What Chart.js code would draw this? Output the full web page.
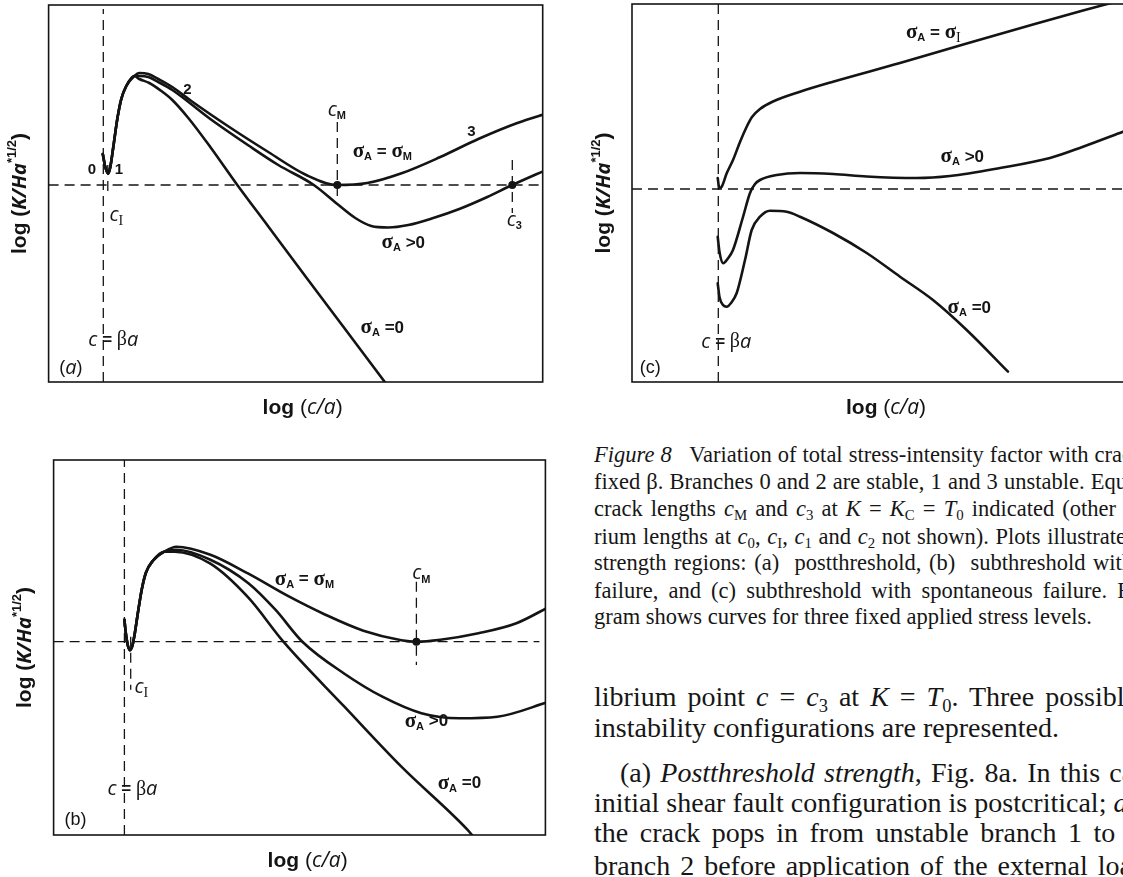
<!DOCTYPE html>
<html>
<head>
<meta charset="utf-8">
<script src="https://cdn.jsdelivr.net/npm/chart.js@4.4.0/dist/chart.umd.min.js"></script>
<style>
  html, body { margin: 0; padding: 0; background: #fff; }
  body { width: 1123px; height: 877px; position: relative; overflow: hidden; }
  canvas { position: absolute; }
  #chartA { left: 0; top: 0; }
  #chartB { left: 0; top: 440px; }
  #chartC { left: 590px; top: 0; }
  .cap, .txt { position: absolute; left: 594px; white-space: nowrap; font-family: "Liberation Serif", serif; color: #161616; }
  .cap { font-size: 22.5px; line-height: 27px; }
  .txt { font-size: 28px; line-height: 30px; }
  sub { font-size: 0.66em; vertical-align: -0.3em; line-height: 0; }
</style>
</head>
<body>
<canvas id="chartA" width="570" height="430"></canvas>
<canvas id="chartB" width="570" height="437"></canvas>
<canvas id="chartC" width="550" height="430"></canvas>

<div class="cap" style="top:441px; word-spacing:0.5px"><i>Figure 8</i>&ensp;&nbsp;Variation of total stress-intensity factor with crack length for</div>
<div class="cap" style="top:468px; word-spacing:0.5px">fixed β. Branches 0 and 2 are stable, 1 and 3 unstable. Equilibrium</div>
<div class="cap" style="top:495px; word-spacing:2.5px">crack lengths <i>c</i><sub>M</sub> and <i>c</i><sub>3</sub> at <i>K</i> = <i>K</i><sub>C</sub> = <i>T</i><sub>0</sub> indicated (other equilib-</div>
<div class="cap" style="top:523px; word-spacing:1px">rium lengths at <i>c</i><sub>0</sub>, <i>c</i><sub>I</sub>, <i>c</i><sub>1</sub> and <i>c</i><sub>2</sub> not shown). Plots illustrate three</div>
<div class="cap" style="top:549px; word-spacing:2px">strength regions: (a)&nbsp; postthreshold, (b)&nbsp; subthreshold with abrupt</div>
<div class="cap" style="top:577px; word-spacing:4.5px">failure, and (c) subthreshold with spontaneous failure. Each dia-</div>
<div class="cap" style="top:603px">gram shows curves for three fixed applied stress levels.</div>

<div class="txt" style="top:682px; word-spacing:4px">librium point <i>c</i> = <i>c</i><sub>3</sub> at <i>K</i> = <i>T</i><sub>0</sub>. Three possible</div>
<div class="txt" style="top:713px">instability configurations are represented.</div>
<div class="txt" style="top:758px; left:620px; word-spacing:2.2px">(a) <i>Postthreshold strength</i>, Fig. 8a. In this case the</div>
<div class="txt" style="top:788px">initial shear fault configuration is postcritical; <i>a</i>t zero load</div>
<div class="txt" style="top:818px; word-spacing:4.5px">the crack pops in from unstable branch 1 to stable</div>
<div class="txt" style="top:851px; word-spacing:3px">branch 2 before application of the external load.</div>

<script>
const INK = '#141414';

// ---- (a) postthreshold: x = log(c/a), y = log(K/Ha*1/2), both relative to the dashed guides
const aRangeX = [-5.47, 43.94];
const aRangeY = [-19.7, 18.0];
const aRise = [[-0.05, 3.1], [0.15, 2.0], [0.35, 1.35], [0.5, 1.15], [0.7, 1.8], [1.0, 3.8], [1.4, 6.6], [1.8, 8.6], [2.3, 9.9], [3.1, 10.9]];
const aSigmaM = [[3.6, 11.2], [4.5, 11.1], [5.5, 10.6], [6.9, 9.8], [8.8, 8.4], [12.6, 5.8], [16.5, 3.3], [20.3, 1.0], [23.4, 0], [26.4, 0.2], [29.9, 1.2], [33.7, 2.8], [37.5, 4.6], [41.4, 6.2], [44.5, 7.2]];
const aSigmaPos = [[3.6, 10.9], [4.5, 10.8], [5.5, 10.3], [6.9, 9.5], [10.7, 6.6], [14.6, 3.9], [17.5, 2.0], [21.05, 0], [23.4, -1.9], [25.2, -3.3], [26.8, -4.1], [28.5, -4.25], [30.5, -4.0], [33, -3.3], [35.6, -2.4], [38.4, -1.2], [40.9, 0], [44.5, 1.6]];
const aSigmaZero = [[3.6, 10.6], [4.6, 10.2], [5.8, 9.4], [6.9, 8.5], [8.5, 6.7], [10.7, 3.8], [13.4, 0], [16.5, -4.15], [20.3, -9.25], [24.1, -14.3], [28.6, -20.3]];
const aThreshold = [[-5.47, 0], [43.94, 0]];
const aBeta = [[0, -19.7], [0, 17.6]];
const aTickM = [[23.4, 6.3], [23.4, -1.5]];
const aTick3 = [[40.9, 2.5], [40.9, -2.8]];
const aTickI = [[0.45, 2.0], [0.45, -1.2]];
const aEquilibria = [[23.4, 0], [40.9, 0]];

// ---- (b) subthreshold, activated failure
const bRangeX = [-7.08, 42.1];
const bRangeY = [-19.33, 18.17];
const bRise = [[0.0, 2.2], [0.15, 0.8], [0.35, -0.4], [0.56, -0.85], [0.8, -0.4], [1.05, 0.9], [1.35, 2.9], [1.75, 5.3], [2.15, 6.9], [2.85, 8.1], [4.0, 9.0]];
const bSigmaM = [[5.2, 9.5], [8.6, 8.7], [12.4, 6.8], [16.3, 4.6], [20.1, 2.7], [23.9, 1.1], [27.7, 0.15], [29.2, 0], [31.6, 0.2], [35.4, 0.85], [39.2, 1.85], [42.5, 3.5]];
const bSigmaPos = [[5.2, 9.2], [8.6, 8.2], [12.4, 5.85], [15.1, 3.2], [17.8, 0], [22, -3.2], [25.8, -5.5], [29.7, -7.15], [33.5, -7.65], [37.3, -7.5], [42.5, -6.0]];
const bSigmaZero = [[5.0, 9.0], [8.6, 7.8], [12.4, 4.4], [15.9, 0], [22, -6.5], [27.7, -12.5], [34.3, -18.8], [34.9, -19.5]];
const bThreshold = [[-7.08, 0], [41.5, 0]];
const bBeta = [[0, -19.33], [0, 18.17]];
const bTickM = [[29.2, 6.0], [29.2, -2.33]];
const bTickI = [[0.63, 0.5], [0.63, -4.8]];
const bEquilibria = [[29.2, 0]];

// ---- (c) subthreshold, spontaneous failure
const cRangeX = [-8.63, 40.77];
const cRangeY = [-19.3, 18.5];
const cSigmaI = [[-0.06, 1.1], [0.10, 0.1], [0.32, 0.2], [0.84, 1.57], [1.47, 2.9], [2.17, 4.7], [2.84, 6.23], [3.37, 7.2], [4.17, 8.0], [5.47, 8.75], [8.17, 9.73], [11.47, 10.73], [18.17, 12.6], [24.84, 14.55], [31.47, 16.45], [36.47, 17.85], [39.67, 18.7]];
const cSigmaPos = [[-0.06, -4.77], [0.12, -6.3], [0.5, -7.43], [0.92, -7.0], [1.47, -6.1], [2.47, -2.8], [3.17, -0.4], [3.67, 0.5], [4.17, 0.9], [5.84, 1.4], [8.17, 1.6], [11.47, 1.5], [14.84, 1.25], [19.84, 1.1], [23.17, 1.3], [28.17, 2.1], [33.17, 3.1], [36.47, 4.23], [40.47, 5.73]];
const cSigmaZero = [[-0.06, -9.43], [0.12, -10.8], [0.47, -11.6], [0.84, -11.77], [1.27, -11.4], [1.84, -10.4], [2.67, -7.1], [3.34, -4.1], [4.17, -2.77], [5.17, -2.17], [6.84, -2.27], [8.17, -2.77], [11.47, -4.4], [14.84, -6.4], [18.17, -8.77], [21.47, -11.1], [24.84, -14.1], [28.97, -18.27]];
const cThreshold = [[-8.63, 0], [40.77, 0]];
const cBeta = [[0, -19.3], [0, 18.5]];

// fonts for the mixed-style annotations
const FONT = {
  sig: 'bold 21px "Liberation Serif"',
  sub: 'bold 11px "Liberation Sans"',
  subSerif: '14px "Liberation Serif"',
  op: 'bold 17px "Liberation Sans"',
  num: 'bold 15px "Liberation Sans"',
  ital: 'italic 20px "Open Sans"',
  greek: '20px "Liberation Serif"',
  paren: '18px "Liberation Sans"',
  axis: 'bold 21px "Liberation Sans"',
  axisIt: 'italic 21px "Open Sans"',
  axisItB: 'italic bold 20px "Open Sans"',
  axisPar: '21px "Liberation Sans"',
  axisParB: 'bold 21px "Liberation Sans"',
  sup: 'bold 13px "Liberation Sans"'
};

const SIG_EQ_M = [['σ', 'sig'], ['A', 'sub', 5], [' = ', 'op'], ['σ', 'sig'], ['M', 'sub', 5]];
const SIG_EQ_I = [['σ', 'sig'], ['A', 'sub', 5], [' = ', 'op'], ['σ', 'sig'], ['I', 'subSerif', 5]];
const SIG_GT_0 = [['σ', 'sig'], ['A', 'sub', 5], [' >0', 'op']];
const SIG_EQ_0 = [['σ', 'sig'], ['A', 'sub', 5], [' =0', 'op']];
const C_M = [['c', 'ital'], ['M', 'sub', 6]];
const C_I = [['c', 'ital'], ['I', 'subSerif', 6]];
const C_3 = [['c', 'ital'], ['3', 'sub', 6]];
const C_BETA = [['c', 'ital'], [' = ', 'op'], ['β', 'greek'], ['a', 'ital']];
const X_TITLE = [['log ', 'axis'], ['(', 'axisPar'], ['c/a', 'axisIt'], [')', 'axisPar']];
const Y_TITLE = [['log ', 'axis'], ['(', 'axisParB'], ['K/Ha', 'axisItB'], ['*1/2', 'sup', -8], [')', 'axisParB']];
const tag = (l, f) => [['(', 'paren'], [l, f], [')', 'paren']];

const aLabels = [
  { at: [-1.15, 1.5], runs: [['0', 'num']] },
  { at: [1.55, 1.5], runs: [['1', 'num']] },
  { at: [8.4, 9.5], runs: [['2', 'num']] },
  { at: [36.8, 5.3], runs: [['3', 'num']] },
  { at: [23.35, 7.5], runs: C_M },
  { at: [27.9, 3.3], runs: SIG_EQ_M },
  { at: [1.3, -3.0], runs: C_I },
  { at: [41.1, -3.5], runs: C_3 },
  { at: [30.0, -5.8], runs: SIG_GT_0 },
  { at: [27.9, -14.3], runs: SIG_EQ_0 },
  { at: [1.0, -15.5], runs: C_BETA },
  { at: [-3.25, -18.3], runs: tag('a', 'ital') }
];
const bLabels = [
  { at: [18.0, 6.2], runs: SIG_EQ_M },
  { at: [29.7, 6.8], runs: C_M },
  { at: [1.7, -4.6], runs: C_I },
  { at: [30.2, -8.0], runs: SIG_GT_0 },
  { at: [33.5, -14.2], runs: SIG_EQ_0 },
  { at: [0.8, -14.8], runs: C_BETA },
  { at: [-4.9, -17.8], runs: tag('b', 'paren') }
];
const cLabels = [
  { at: [21.5, 15.6], runs: SIG_EQ_I },
  { at: [24.4, 3.2], runs: SIG_GT_0 },
  { at: [25.1, -11.9], runs: SIG_EQ_0 },
  { at: [0.8, -15.3], runs: C_BETA },
  { at: [-6.8, -17.9], runs: tag('c', 'paren') }
];

const pts = arr => arr.map(([x, y]) => ({ x, y }));

// draws a run of differently styled pieces centred on (cx, cy)
function drawRuns(ctx, runs, cx, cy) {
  let w = 0;
  const parts = runs.map(([t, f, dy]) => {
    ctx.font = FONT[f];
    const m = ctx.measureText(t).width;
    w += m;
    return [t, FONT[f], dy || 0, m];
  });
  let x = cx - w / 2;
  ctx.textAlign = 'left';
  ctx.textBaseline = 'middle';
  parts.forEach(([t, f, dy, m]) => {
    ctx.font = f;
    ctx.fillText(t, x, cy + dy);
    x += m;
  });
}

// frame, annotations and axis titles
function figurePlugin(labels) {
  return {
    id: 'figure',
    afterDatasetsDraw(chart) {
      const { ctx, chartArea: a, scales: { x, y } } = chart;
      ctx.save();
      ctx.strokeStyle = INK;
      ctx.lineWidth = 1.6;
      ctx.strokeRect(a.left, a.top, a.right - a.left, a.bottom - a.top);
      ctx.fillStyle = INK;
      labels.forEach(l => drawRuns(ctx, l.runs, x.getPixelForValue(l.at[0]), y.getPixelForValue(l.at[1])));
      drawRuns(ctx, X_TITLE, a.left + 254, a.bottom + 26);
      ctx.translate(a.left - 28, (a.top + a.bottom) / 2);
      ctx.rotate(-Math.PI / 2);
      drawRuns(ctx, Y_TITLE, 0, 0);
      ctx.restore();
    }
  };
}

function buildPanel(id, pad, rangeX, rangeY, guides, curves, dots, labels) {
  const datasets = [];
  guides.forEach(g => datasets.push({
    data: pts(g), showLine: true, borderColor: INK, borderWidth: 1.3,
    borderDash: [10, 6], pointRadius: 0, fill: false
  }));
  curves.forEach(c => datasets.push({
    data: pts(c), showLine: true, borderColor: INK, borderWidth: 2.6,
    pointRadius: 0, fill: false, cubicInterpolationMode: 'monotone',
    borderCapStyle: 'round', borderJoinStyle: 'round'
  }));
  if (dots.length) datasets.push({
    data: pts(dots), showLine: false, pointRadius: 4,
    pointBackgroundColor: INK, pointBorderWidth: 0
  });

  return new Chart(document.getElementById(id), {
    type: 'scatter',
    data: { datasets },
    options: {
      responsive: false,
      animation: false,
      events: [],
      layout: { padding: pad },
      scales: {
        x: { type: 'linear', min: rangeX[0], max: rangeX[1], display: false },
        y: { type: 'linear', min: rangeY[0], max: rangeY[1], display: false }
      },
      plugins: { legend: { display: false }, tooltip: { enabled: false } }
    },
    plugins: [figurePlugin(labels)]
  });
}

buildPanel('chartA', { left: 48.6, top: 5, right: 27.3, bottom: 48 }, aRangeX, aRangeY,
  [aThreshold, aBeta, aTickM, aTick3, aTickI],
  [aRise.concat(aSigmaM), aRise.concat(aSigmaPos), aRise.concat(aSigmaZero)],
  aEquilibria, aLabels);

buildPanel('chartB', { left: 53.6, top: 20, right: 24.6, bottom: 42 }, bRangeX, bRangeY,
  [bThreshold, bBeta, bTickM, bTickI],
  [bRise.concat(bSigmaM), bRise.concat(bSigmaPos), bRise.concat(bSigmaZero)],
  bEquilibria, bLabels);

buildPanel('chartC', { left: 42, top: 4, right: 14, bottom: 48 }, cRangeX, cRangeY,
  [cThreshold, cBeta],
  [cSigmaI, cSigmaPos, cSigmaZero],
  [], cLabels);
</script>
</body>
</html>
